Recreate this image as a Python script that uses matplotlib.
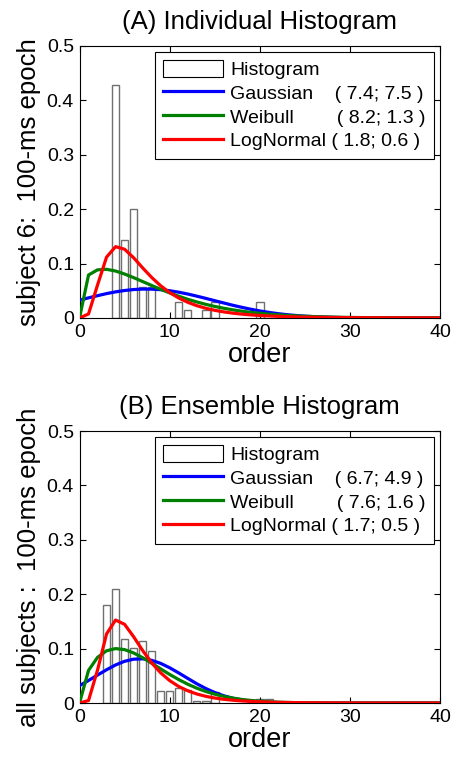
import matplotlib
matplotlib.use("Agg")
import matplotlib.pyplot as plt
from matplotlib.patches import Patch
from matplotlib.lines import Line2D

plt.rcParams['font.family'] = ['Liberation Sans', 'DejaVu Sans']

# ---- data ----
order = list(range(41))

# (A) individual histogram: bin centre -> relative frequency
indiv_bins = [4, 5, 6, 7, 8, 11, 12, 14, 15, 20]
indiv_freq = [0.429, 0.143, 0.200, 0.057, 0.057, 0.029, 0.014, 0.014, 0.029, 0.029]

indiv_gauss = [0.0327, 0.0370, 0.0410, 0.0448, 0.0480, 0.0505, 0.0523, 0.0531, 0.0530, 0.0520,
               0.0501, 0.0474, 0.0441, 0.0402, 0.0361, 0.0318, 0.0276, 0.0234, 0.0196, 0.0161,
               0.0130, 0.0103, 0.0080, 0.0061, 0.0046, 0.0034, 0.0025, 0.0017, 0.0012, 0.0008,
               0.0006, 0.0004, 0.0002, 0.0001, 0.0001, 0.0, 0.0, 0.0, 0.0, 0.0, 0.0]
indiv_weib = [0.0, 0.0790, 0.0885, 0.0895, 0.0863, 0.0808, 0.0742, 0.0670, 0.0598, 0.0527,
              0.0461, 0.0400, 0.0344, 0.0295, 0.0251, 0.0212, 0.0179, 0.0150, 0.0125, 0.0103,
              0.0086, 0.0070, 0.0058, 0.0047, 0.0039, 0.0031, 0.0025, 0.0020, 0.0016, 0.0013,
              0.0010, 0.0008, 0.0006, 0.0005, 0.0004, 0.0003, 0.0002, 0.0002, 0.0001, 0.0001, 0.0001]
indiv_logn = [0.0, 0.0074, 0.0606, 0.1119, 0.1311, 0.1264, 0.1108, 0.0922, 0.0746, 0.0593,
              0.0468, 0.0368, 0.0289, 0.0227, 0.0179, 0.0141, 0.0112, 0.0089, 0.0071, 0.0057,
              0.0046, 0.0037, 0.0030, 0.0024, 0.0020, 0.0016, 0.0013, 0.0011, 0.0009, 0.0007,
              0.0006, 0.0005, 0.0004, 0.0004, 0.0003, 0.0003, 0.0002, 0.0002, 0.0002, 0.0001, 0.0001]
indiv_params = ["( 7.4; 7.5 )", "( 8.2; 1.3 )", "( 1.8; 0.6 )"]

# (B) ensemble histogram
ens_bins = [3, 4, 5, 6, 7, 8, 9, 10, 11, 12, 13, 14, 15, 20, 21, 35]
ens_freq = [0.181, 0.209, 0.118, 0.102, 0.114, 0.096, 0.022, 0.022, 0.028, 0.024,
            0.004, 0.004, 0.021, 0.007, 0.007, 0.002]

ens_gauss = [0.0320, 0.0414, 0.0514, 0.0612, 0.0700, 0.0767, 0.0806, 0.0813, 0.0786, 0.0729,
             0.0649, 0.0554, 0.0454, 0.0356, 0.0268, 0.0194, 0.0134, 0.0089, 0.0057, 0.0035,
             0.0020, 0.0011, 0.0006, 0.0003, 0.0002, 0.0001, 0.0, 0.0, 0.0, 0.0,
             0.0, 0.0, 0.0, 0.0, 0.0, 0.0, 0.0, 0.0, 0.0, 0.0, 0.0]
ens_weib = [0.0, 0.0600, 0.0840, 0.0961, 0.1001, 0.0982, 0.0921, 0.0834, 0.0733, 0.0628,
            0.0526, 0.0432, 0.0347, 0.0274, 0.0213, 0.0163, 0.0122, 0.0091, 0.0066, 0.0048,
            0.0034, 0.0024, 0.0016, 0.0011, 0.0007, 0.0005, 0.0003, 0.0002, 0.0001, 0.0,
            0.0, 0.0, 0.0, 0.0, 0.0, 0.0, 0.0, 0.0, 0.0, 0.0, 0.0]
ens_logn = [0.0, 0.0046, 0.0606, 0.1270, 0.1526, 0.1447, 0.1220, 0.0967, 0.0740, 0.0556,
            0.0413, 0.0305, 0.0226, 0.0167, 0.0124, 0.0092, 0.0069, 0.0052, 0.0039, 0.0030,
            0.0023, 0.0017, 0.0013, 0.0010, 0.0008, 0.0006, 0.0005, 0.0004, 0.0003, 0.0002,
            0.0002, 0.0001, 0.0001, 0.0001, 0.0001, 0.0, 0.0, 0.0, 0.0, 0.0, 0.0]
ens_params = ["( 6.7; 4.9 )", "( 7.6; 1.6 )", "( 1.7; 0.5 )"]


def draw_panel(ax, title, ylabel, bins, freq, gauss, weib, logn, params):
    ax.bar(bins, freq, width=0.85, facecolor='white', edgecolor='#707070', linewidth=1.0, zorder=1)
    ax.plot(order, gauss, color=(0, 0, 1), lw=2.3, zorder=3)
    ax.plot(order, weib, color=(0, 0.5, 0), lw=2.3, zorder=3)
    ax.plot(order, logn, color=(1, 0, 0), lw=2.3, zorder=4)

    ax.set_xlim(0, 40)
    ax.set_ylim(0, 0.5)
    ax.set_xticks([0, 10, 20, 30, 40])
    ax.set_yticks([0, 0.1, 0.2, 0.3, 0.4, 0.5])
    ax.set_yticklabels(['0', '0.1', '0.2', '0.3', '0.4', '0.5'])
    ax.tick_params(direction='in', top=True, right=True, labelsize=14, length=4, pad=4)
    for s in ax.spines.values():
        s.set_linewidth(0.8)

    ax.set_title(title, fontsize=18.5, pad=12)
    ax.set_xlabel('order', fontsize=19.5, labelpad=1)
    ax.set_ylabel(ylabel, fontsize=18.5, labelpad=4)

    handles = [Patch(facecolor='white', edgecolor='black', linewidth=0.8),
               Line2D([], [], color=(0, 0, 1), lw=2.3),
               Line2D([], [], color=(0, 0.5, 0), lw=2.3),
               Line2D([], [], color=(1, 0, 0), lw=2.3)]
    labels = ['Histogram',
              'Gaussian    ' + params[0],
              'Weibull        ' + params[1],
              'LogNormal ' + params[2]]
    leg = ax.legend(handles, labels, loc='upper right', bbox_to_anchor=(0.983, 0.978),
                    borderaxespad=0, fontsize=14, fancybox=False, framealpha=1,
                    edgecolor='black', handlelength=3.1, handleheight=0.95,
                    handletextpad=0.36, labelspacing=0.24, borderpad=0.42)
    leg.get_frame().set_linewidth(0.8)


fig = plt.figure(figsize=(4.51, 7.64), dpi=100)
ax1 = fig.add_axes([0.1763, 0.5838, 0.7993, 0.356])
ax2 = fig.add_axes([0.1763, 0.0798, 0.7993, 0.356])

draw_panel(ax1, '(A) Individual Histogram', 'subject 6:  100-ms epoch',
           indiv_bins, indiv_freq, indiv_gauss, indiv_weib, indiv_logn, indiv_params)
draw_panel(ax2, '(B) Ensemble Histogram', 'all subjects :  100-ms epoch',
           ens_bins, ens_freq, ens_gauss, ens_weib, ens_logn, ens_params)

fig.savefig('out.png', dpi=100)
